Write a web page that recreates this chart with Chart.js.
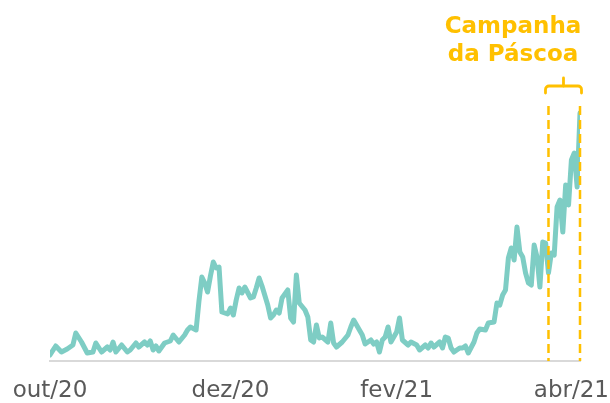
<!DOCTYPE html>
<html><head><meta charset="utf-8">
<script src="https://cdn.jsdelivr.net/npm/chart.js@4.4.0/dist/chart.umd.min.js"></script>
<style>html,body{margin:0;padding:0;background:#fff}#wrap{width:610px;height:403px;position:relative}</style>
</head><body><div id="wrap"><canvas id="c" width="610" height="403"></canvas></div>
<script>
// day index since 1 Oct 2020
const days = [0,2,4,6,8,9,11,13,15,16,18,20,21,22,23,25,27,28,30,31,33,34,35,36,37,38,40,42,43,45,47,48,49,51,52,53,54,55,56,57,58,59,60,62,63,64,65,66,67,68,70,71,72,73,74,76,77,78,79,80,81,83,84,85,86,87,89,90,91,92,93,94,95,97,98,99,100,102,104,105,106,108,109,110,112,113,114,115,116,117,118,119,121,122,123,125,126,128,129,131,132,133,134,136,137,138,139,140,141,143,144,145,146,148,149,150,152,153,155,156,157,158,159,160,161,162,163,164,165,166,167,168,169,170,171,172,173,174,175,176,177,178,179,180,181,182,183,184,185];
const values = [6,15,9,12,16,28,19,8,9,18,9,14,11,19,9,16,9,11,18,14,19,16,20,11,15,10,18,20,26,19,26,31,34,31,60,84,78,69,85,99,93,94,49,47,53,46,61,73,68,74,63,64,73,83,75,56,43,46,51,48,63,71,43,39,86,58,51,44,21,19,36,23,24,19,38,18,14,19,26,34,41,31,26,17,21,17,19,9,21,24,34,19,29,43,21,16,19,16,11,16,13,18,14,19,13,24,23,13,9,13,13,15,8,19,28,32,31,38,39,58,56,66,71,103,113,101,134,109,104,88,78,76,116,104,74,119,118,88,108,106,154,161,129,176,156,201,208,174,248];
const tickDays = [0, 63, 121, 182];
const tickLabels = ['out/20', 'dez/20', 'fev/21', 'abr/21'];
const campaignDays = [174, 185];
const campaignLabel = ['Campanha', 'da Páscoa'];

const GOLD = '#FFC000';
const campaignPlugin = {
  id: 'campaign',
  afterDatasetsDraw(chart) {
    const {ctx, chartArea, scales: {x}} = chart;
    const l = x.getPixelForValue(campaignDays[0]);
    const r = x.getPixelForValue(campaignDays[1]);
    ctx.save();
    ctx.strokeStyle = GOLD;
    ctx.lineWidth = 2.5;
    ctx.setLineDash([9, 5]);
    [l, r].forEach(px => {
      ctx.beginPath(); ctx.moveTo(px, 106); ctx.lineTo(px, chartArea.bottom); ctx.stroke();
    });
    ctx.setLineDash([]);
    ctx.lineWidth = 2.8; ctx.lineJoin = 'round'; ctx.lineCap = 'round';
    const bl = l - 3, br = r + 1.5, by = 86, rad = 3.5;
    ctx.beginPath();
    ctx.moveTo(bl, by + 7);
    ctx.arcTo(bl, by, bl + rad, by, rad);
    ctx.arcTo(br, by, br, by + rad, rad);
    ctx.lineTo(br, by + 7);
    ctx.stroke();
    const cx = (bl + br) / 2;
    ctx.beginPath(); ctx.moveTo(cx, by); ctx.lineTo(cx, by - 8); ctx.stroke();
    ctx.fillStyle = GOLD;
    ctx.font = 'bold 23px "DejaVu Sans", sans-serif';
    ctx.textAlign = 'center'; ctx.textBaseline = 'alphabetic';
    const tx = r - 67;
    ctx.fillText(campaignLabel[0], tx, 33);
    ctx.fillText(campaignLabel[1], tx, 61);
    ctx.restore();
  }
};

new Chart(document.getElementById('c'), {
  type: 'line',
  data: {
    datasets: [{
      data: days.map((d, i) => ({x: d, y: values[i]})),
      borderColor: '#7ECDC4',
      borderWidth: 5,
      pointRadius: 0,
      tension: 0,
      fill: false,
      borderJoinStyle: 'round',
      borderCapStyle: 'round'
    }]
  },
  options: {
    responsive: false,
    animation: false,
    devicePixelRatio: 1,
    layout: {padding: {left: 50, right: 30, top: 61, bottom: 0}},
    plugins: {legend: {display: false}, tooltip: {enabled: false}},
    scales: {
      x: {
        type: 'linear', min: 0, max: 185,
        grid: {display: false, drawTicks: false},
        border: {display: true, color: '#D9D9D9', width: 2},
        afterBuildTicks: s => { s.ticks = tickDays.map(v => ({value: v})); },
        afterFit: s => { s.height = 42; s.paddingLeft = 0; s.paddingRight = 0; },
        ticks: {
          autoSkip: false, maxRotation: 0, padding: 16, color: '#595959',
          font: {family: '"DejaVu Sans", sans-serif', size: 23},
          callback: v => { const i = tickDays.indexOf(v); return i >= 0 ? tickLabels[i] : ''; }
        }
      },
      y: {display: false, min: 0, max: 300}
    }
  },
  plugins: [campaignPlugin]
});
</script>
</body></html>
